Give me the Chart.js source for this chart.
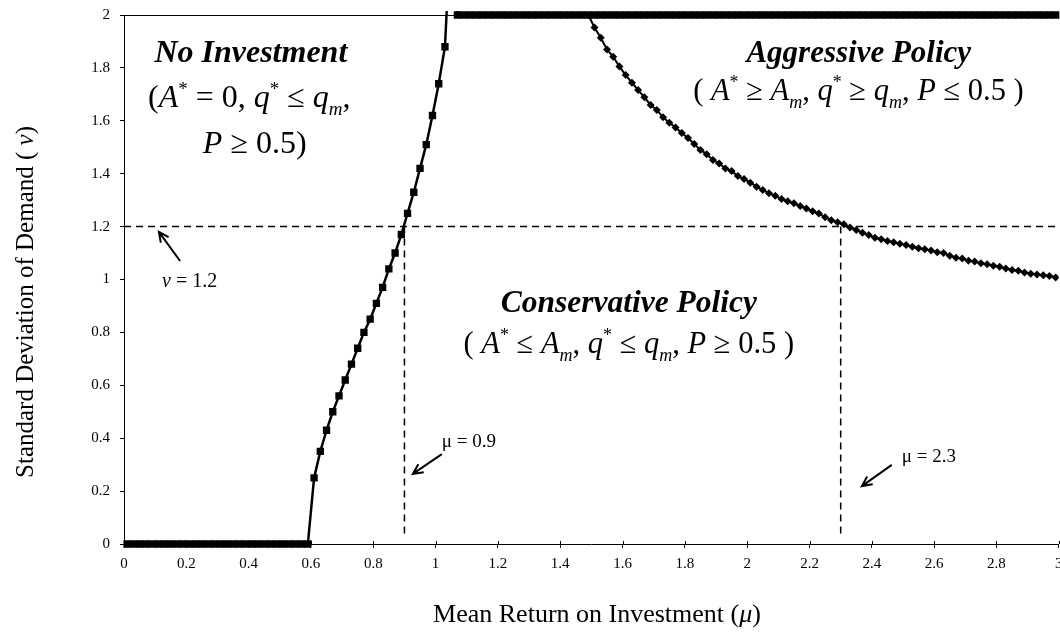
<!DOCTYPE html>
<html>
<head>
<meta charset="utf-8">
<script src="https://cdn.jsdelivr.net/npm/chart.js@4.4.0/dist/chart.umd.min.js"></script>
<style>
  html, body { margin: 0; padding: 0; background: #fff; overflow: hidden; }
  #wrap { position: relative; width: 1060px; height: 632px; overflow: hidden; }
</style>
</head>
<body>
<div id="wrap"><canvas id="chart" width="1064" height="632"></canvas></div>
<script>
// boundary between "no investment" and the conservative region (square markers)
const muLeft = [
  0.01,0.03,0.05,0.07,0.09,0.11,0.13,0.15,0.17,0.19,
  0.21,0.23,0.25,0.27,0.29,0.31,0.33,0.35,0.37,0.39,
  0.41,0.43,0.45,0.47,0.49,0.51,0.53,0.55,0.57,0.59,
  0.61,0.63,0.65,0.67,0.69,0.71,0.73,0.75,0.77,0.79,
  0.81,0.83,0.85,0.87,0.89,0.91,0.93,0.95,0.97,0.99,
  1.01,1.03,1.05,1.07,1.09,1.11,1.13,1.15,1.17,1.19,
  1.21,1.23,1.25,1.27,1.29,1.31,1.33,1.35,1.37,1.39,
  1.41,1.43,1.45,1.47,1.49,1.51,1.53,1.55,1.57,1.59,
  1.61,1.63,1.65,1.67,1.69,1.71,1.73,1.75,1.77,1.79,
  1.81,1.83,1.85,1.87,1.89,1.91,1.93,1.95,1.97,1.99,
  2.01,2.03,2.05,2.07,2.09,2.11,2.13,2.15,2.17,2.19,
  2.21,2.23,2.25,2.27,2.29,2.31,2.33,2.35,2.37,2.39,
  2.41,2.43,2.45,2.47,2.49,2.51,2.53,2.55,2.57,2.59,
  2.61,2.63,2.65,2.67,2.69,2.71,2.73,2.75,2.77,2.79,
  2.81,2.83,2.85,2.87,2.89,2.91,2.93,2.95,2.97,2.99
];
const nuLeft = [
  0,0,0,0,0,0,0,0,0,0,
  0,0,0,0,0,0,0,0,0,0,
  0,0,0,0,0,0,0,0,0,0,
  0.25,0.35,0.43,0.50,0.56,0.62,0.68,0.74,0.80,0.85,
  0.91,0.97,1.04,1.10,1.17,1.25,1.33,1.42,1.51,1.62,
  1.74,1.88,2.36,2,2,2,2,2,2,2,
  2,2,2,2,2,2,2,2,2,2,
  2,2,2,2,2,2,2,2,2,2,
  2,2,2,2,2,2,2,2,2,2,
  2,2,2,2,2,2,2,2,2,2,
  2,2,2,2,2,2,2,2,2,2,
  2,2,2,2,2,2,2,2,2,2,
  2,2,2,2,2,2,2,2,2,2,
  2,2,2,2,2,2,2,2,2,2,
  2,2,2,2,2,2,2,2,2,2
];

// boundary between the conservative and aggressive regions (diamond markers)
const muRight = [
  1.49,1.51,1.53,1.55,1.57,1.59,1.61,1.63,1.65,1.67,
  1.69,1.71,1.73,1.75,1.77,1.79,1.81,1.83,1.85,1.87,
  1.89,1.91,1.93,1.95,1.97,1.99,2.01,2.03,2.05,2.07,
  2.09,2.11,2.13,2.15,2.17,2.19,2.21,2.23,2.25,2.27,
  2.29,2.31,2.33,2.35,2.37,2.39,2.41,2.43,2.45,2.47,
  2.49,2.51,2.53,2.55,2.57,2.59,2.61,2.63,2.65,2.67,
  2.69,2.71,2.73,2.75,2.77,2.79,2.81,2.83,2.85,2.87,
  2.89,2.91,2.93,2.95,2.97,2.99
];
const nuRight = [
  2.000,1.953,1.914,1.870,1.842,1.805,1.773,1.744,1.716,1.689,
  1.660,1.641,1.613,1.593,1.575,1.554,1.535,1.512,1.490,1.474,
  1.452,1.439,1.420,1.410,1.391,1.380,1.366,1.351,1.338,1.326,
  1.317,1.304,1.296,1.288,1.278,1.268,1.258,1.250,1.235,1.224,
  1.216,1.209,1.197,1.187,1.177,1.168,1.158,1.152,1.146,1.141,
  1.135,1.130,1.124,1.118,1.114,1.110,1.103,1.100,1.090,1.082,
  1.079,1.071,1.068,1.061,1.058,1.052,1.048,1.042,1.036,1.033,
  1.026,1.022,1.019,1.016,1.013,1.008
];

// dashed reference lines
const refNuMu = [0, 3];      const refNuNu = [1.2, 1.2];
const refMu1Mu = [0.9, 0.9]; const refMu1Nu = [1.2, 0.03];
const refMu2Mu = [2.3, 2.3]; const refMu2Nu = [1.2, 0.03];

// axis ticks
const muTicks = [0,0.2,0.4,0.6,0.8,1,1.2,1.4,1.6,1.8,2,2.2,2.4,2.6,2.8,3];
const nuTicks = [0,0.2,0.4,0.6,0.8,1,1.2,1.4,1.6,1.8,2];

const serif = '"Liberation Serif", "Times New Roman", serif';
const pts = (xs, ys) => xs.map((x, i) => ({ x: x, y: ys[i] }));

function mathText(ctx, parts, x, y, size, align) {
  const fontFor = k => {
    if (k === 'i') return 'italic ' + size + 'px ' + serif;
    if (k === 'b') return 'italic bold ' + size + 'px ' + serif;
    if (k === 'sup') return Math.round(size * 0.6) + 'px ' + serif;
    if (k === 'sub') return 'italic ' + Math.round(size * 0.6) + 'px ' + serif;
    return size + 'px ' + serif;
  };
  let w = 0;
  parts.forEach(p => { ctx.font = fontFor(p[1]); w += ctx.measureText(p[0]).width; });
  let cx = align === 'center' ? x - w / 2 : x;
  parts.forEach(p => {
    ctx.font = fontFor(p[1]);
    const dy = p[1] === 'sup' ? -size * 0.38 : p[1] === 'sub' ? size * 0.25 : 0;
    ctx.fillText(p[0], cx, y + dy);
    cx += ctx.measureText(p[0]).width;
  });
}

function arrow(ctx, x1, y1, x2, y2) {
  const a = Math.atan2(y2 - y1, x2 - x1), len = 11, spread = 0.45;
  ctx.beginPath();
  ctx.moveTo(x1, y1); ctx.lineTo(x2, y2);
  ctx.moveTo(x2 - len * Math.cos(a - spread), y2 - len * Math.sin(a - spread));
  ctx.lineTo(x2, y2);
  ctx.lineTo(x2 - len * Math.cos(a + spread), y2 - len * Math.sin(a + spread));
  ctx.stroke();
}

const regionLabels = {
  id: 'regionLabels',
  afterDatasetsDraw(chart) {
    const ctx = chart.ctx;
    const X = v => chart.scales.x.getPixelForValue(v);
    const Y = v => chart.scales.y.getPixelForValue(v);
    ctx.save();
    ctx.fillStyle = '#000';
    ctx.strokeStyle = '#000';
    ctx.textBaseline = 'alphabetic';

    // x tick marks cross the axis line
    ctx.lineWidth = 1;
    ctx.beginPath();
    muTicks.forEach(v => {
      const px = Math.round(X(v)) + 0.5;
      ctx.moveTo(px, Y(0) - 3); ctx.lineTo(px, Y(0));
    });
    ctx.stroke();

    ctx.lineWidth = 2;
    mathText(ctx, [['No Investment', 'b']], X(0.407), Y(1.822), 32, 'center');
    mathText(ctx, [['(', 'r'], ['A', 'i'], ['*', 'sup'], [' = 0, ', 'r'], ['q', 'i'], ['*', 'sup'],
      [' \u2264 ', 'r'], ['q', 'i'], ['m', 'sub'], [',', 'r']], X(0.077), Y(1.652), 32, 'left');
    mathText(ctx, [['P', 'i'], [' \u2265 0.5)', 'r']], X(0.253), Y(1.478), 32, 'left');

    mathText(ctx, [['Aggressive Policy', 'b']], X(2.358), Y(1.822), 31, 'center');
    mathText(ctx, [['( ', 'r'], ['A', 'i'], ['*', 'sup'], [' \u2265 ', 'r'], ['A', 'i'], ['m', 'sub'],
      [', ', 'r'], ['q', 'i'], ['*', 'sup'], [' \u2265 ', 'r'], ['q', 'i'], ['m', 'sub'], [', ', 'r'],
      ['P', 'i'], [' \u2264 0.5 )', 'r']], X(2.357), Y(1.679), 30.5, 'center');

    mathText(ctx, [['Conservative Policy', 'b']], X(1.62), Y(0.877), 31.5, 'center');
    mathText(ctx, [['( ', 'r'], ['A', 'i'], ['*', 'sup'], [' \u2264 ', 'r'], ['A', 'i'], ['m', 'sub'],
      [', ', 'r'], ['q', 'i'], ['*', 'sup'], [' \u2264 ', 'r'], ['q', 'i'], ['m', 'sub'], [', ', 'r'],
      ['P', 'i'], [' \u2265 0.5 )', 'r']], X(1.62), Y(0.722), 30.5, 'center');

    mathText(ctx, [['\u03bd', 'i'], [' = 1.2', 'r']], X(0.122), Y(0.972), 20, 'left');
    mathText(ctx, [['\u03bc = 0.9', 'r']], X(1.02), Y(0.367), 19, 'left');
    mathText(ctx, [['\u03bc = 2.3', 'r']], X(2.496), Y(0.31), 19, 'left');

    arrow(ctx, X(0.18), Y(1.07), X(0.112), Y(1.18));
    arrow(ctx, X(1.02), Y(0.34), X(0.927), Y(0.265));
    arrow(ctx, X(2.464), Y(0.299), X(2.368), Y(0.219));

    // axis titles (with italic greek symbols)
    mathText(ctx, [['Mean Return on Investment (', 'r'], ['\u03bc', 'i'], [')', 'r']],
      X(1.518), Y(-0.295), 26, 'center');
    ctx.translate(chart.chartArea.left - 91, Y(0.915));
    ctx.rotate(-Math.PI / 2);
    mathText(ctx, [['Standard Deviation of Demand ( ', 'r'], ['\u03bd', 'i'], [')', 'r']],
      0, 0, 25, 'center');
    ctx.restore();
  }
};

const dashed = (xs, ys) => ({
  data: pts(xs, ys), borderColor: '#000', borderWidth: 1.5, borderDash: [7, 5],
  pointRadius: 0, fill: false
});

new Chart(document.getElementById('chart'), {
  type: 'line',
  data: {
    datasets: [
      {
        label: 'Left boundary', data: pts(muLeft, nuLeft),
        borderColor: '#000', backgroundColor: '#000', borderWidth: 2.5,
        pointStyle: 'rect', pointRadius: 5.2, pointBorderWidth: 0,
        clip: { left: 8, top: 4, right: 8, bottom: 8 }
      },
      {
        label: 'Right boundary', data: pts(muRight, nuRight),
        borderColor: '#000', backgroundColor: '#000', borderWidth: 2,
        pointStyle: 'rectRot', pointRadius: 4, pointBorderWidth: 0
      },
      dashed(refNuMu, refNuNu),
      dashed(refMu1Mu, refMu1Nu),
      dashed(refMu2Mu, refMu2Nu)
    ]
  },
  options: {
    responsive: false,
    animation: false,
    devicePixelRatio: 1,
    layout: { padding: { top: 15, right: 1, left: 0, bottom: 0 } },
    plugins: { legend: { display: false }, tooltip: { enabled: false } },
    scales: {
      x: {
        type: 'linear', min: 0, max: 3,
        afterBuildTicks: s => { s.ticks = muTicks.map(v => ({ value: v })); },
        afterFit: s => { s.height = 88; s.paddingLeft = 0; s.paddingRight = 0; },
        grid: { drawOnChartArea: false, color: '#000', tickLength: 4 },
        border: { color: '#000', width: 1 },
        ticks: {
          color: '#000', font: { family: serif, size: 15 }, padding: 7,
          maxRotation: 0, autoSkip: false,
          callback: v => String(Math.round(v * 10) / 10)
        },
        title: { display: false }
      },
      y: {
        type: 'linear', min: 0, max: 2,
        afterBuildTicks: s => { s.ticks = nuTicks.map(v => ({ value: v })); },
        afterFit: s => { s.width = 124; s.paddingTop = 0; s.paddingBottom = 0; },
        grid: {
          color: c => (c.tick && c.tick.value === 2 ? '#000' : 'rgba(0,0,0,0)'),
          tickColor: '#000', tickLength: 4, lineWidth: 1
        },
        border: { color: '#000', width: 1 },
        ticks: {
          color: '#000', font: { family: serif, size: 15 }, padding: 10,
          callback: v => String(Math.round(v * 10) / 10)
        },
        title: { display: false }
      }
    }
  },
  plugins: [regionLabels]
});
</script>
</body>
</html>
